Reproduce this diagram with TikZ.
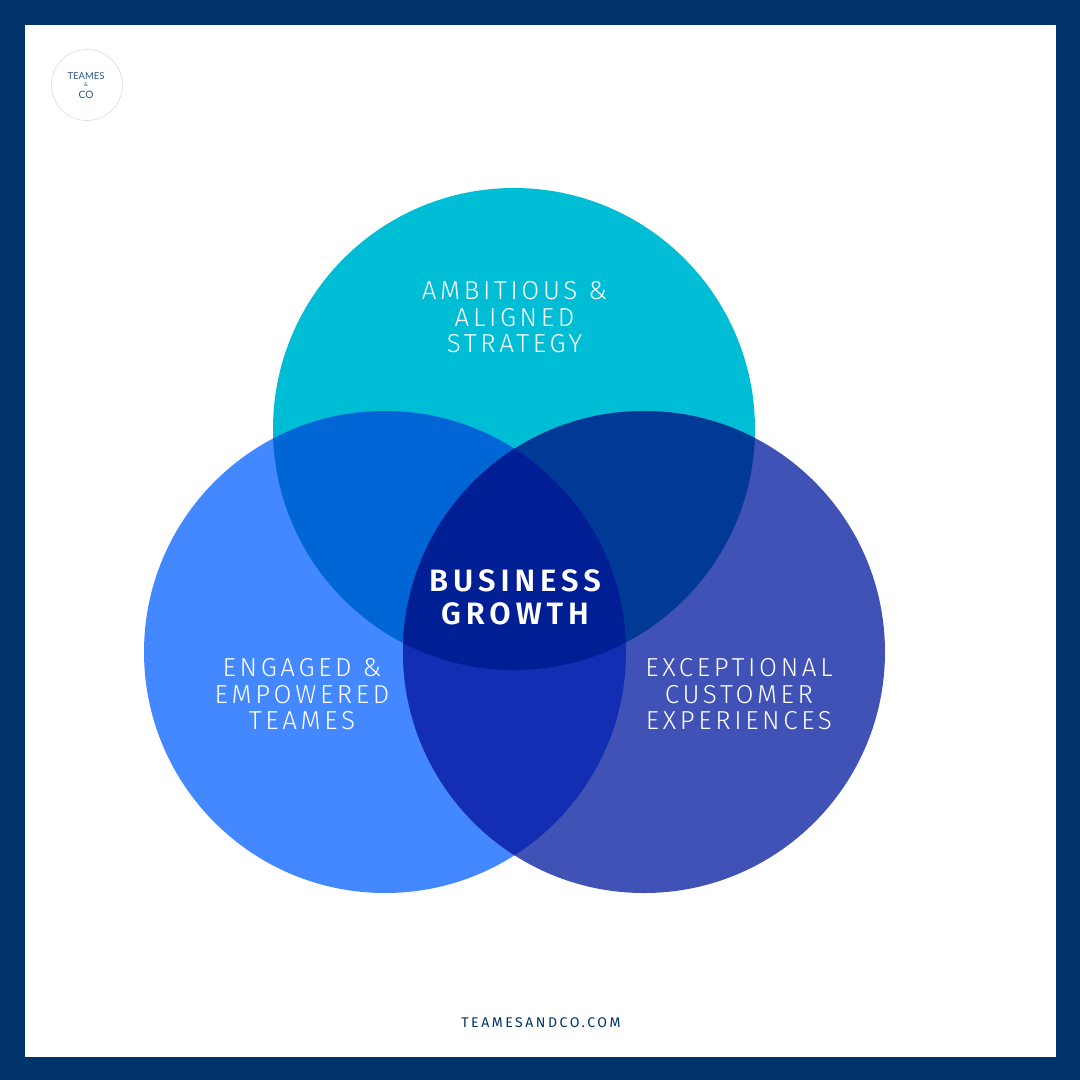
\documentclass[tikz,border=0pt]{standalone}
\usepackage{fontspec}
\setmainfont{Lato}
\newfontfamily\labelfont[LetterSpace=14]{Fira Sans Light}
\newfontfamily\boldfont[LetterSpace=16]{Fira Sans SemiBold}
\newfontfamily\urlfont[LetterSpace=18]{Fira Sans}
\newfontfamily\logofont{Lato}
\definecolor{navy}{HTML}{00346A}
\definecolor{topc}{HTML}{00BDD6}
\definecolor{leftc}{HTML}{4488FF}
\definecolor{rightc}{HTML}{4052B5}
\definecolor{topleft}{HTML}{0066D6}
\definecolor{topright}{HTML}{003A96}
\definecolor{leftright}{HTML}{132DB3}
\definecolor{centre}{HTML}{001F94}
\begin{document}
\begin{tikzpicture}[
    x=0.02cm, y=-0.02cm,
    lbl/.style={text=white, align=center, font=\labelfont\fontsize{14.8}{15.1}\selectfont},
    mid/.style={text=white, align=center, font=\boldfont\fontsize{17.6}{18.6}\selectfont},
    logo/.style={circle, draw=gray!30, line width=0.3pt, minimum size=71*0.02cm, inner sep=0pt},
]
\useasboundingbox (0,0) rectangle (1080,1080);
\fill[navy] (0,0) rectangle (1080,1080);
\fill[white] (25,25) rectangle (1056,1057);

% circles
\fill[topc] (514,429) circle (241);
\fill[leftc] (385,652) circle (241);
\fill[rightc] (644,652) circle (241);

% overlaps
\begin{scope}
\clip (514,429) circle (241);
\fill[topleft] (385,652) circle (241);
\fill[topright] (644,652) circle (241);
\end{scope}
\begin{scope}
\clip (385,652) circle (241);
\fill[leftright] (644,652) circle (241);
\clip (644,652) circle (241);
\fill[centre] (514,429) circle (241);
\end{scope}

\node[lbl] (strategy) at (514.5,317.5) {AMBITIOUS \&\\ALIGNED\\STRATEGY};
\node[lbl] (teames) at (302,694.5) {ENGAGED \&\\EMPOWERED\\TEAMES};
\node[lbl] (customer) at (739,694.5) {EXCEPTIONAL\\CUSTOMER\\EXPERIENCES};
\node[mid] (growth) at (515,597) {BUSINESS\\GROWTH};

\node[logo] (badge) at (87,85) {};
\node[text=navy!85, font=\logofont\fontsize{5.4}{5.4}\selectfont] (badget) at (86,76) {TEAMES};
\node[text=navy!85, font=\logofont\fontsize{3}{3}\selectfont] (badgea) at (86,85) {\&};
\node[text=navy!85, font=\logofont\fontsize{5.8}{5.8}\selectfont] (badgec) at (86,94.5) {CO};
\node[text=navy, font=\urlfont\fontsize{8}{10}\selectfont] (url) at (541,1022.5) {TEAMESANDCO.COM};
\end{tikzpicture}
\end{document}
